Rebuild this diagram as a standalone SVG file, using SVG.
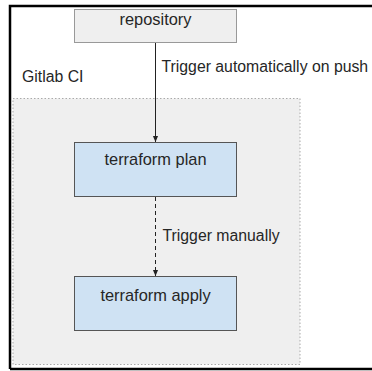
<svg xmlns="http://www.w3.org/2000/svg" width="372" height="371" viewBox="0 0 372 371">
<style>
text{font-family:"Liberation Sans",Arial,sans-serif;font-size:15.8px;fill:#262626}
.node{stroke:#555;stroke-width:1}
.blue{fill:#cfe2f3}
.gray{fill:#efefef;stroke:#999}
.c{text-anchor:middle;font-size:16.4px}
</style>
<defs>
<marker id="ah" viewBox="0 0 8 8" refX="7" refY="4" markerWidth="7" markerHeight="7" markerUnits="userSpaceOnUse" orient="auto">
<path d="M0,1 L7,4 L0,7 z" fill="#222"/>
</marker>
</defs>
<rect width="372" height="371" fill="#fff"/>
<g id="frame" stroke="#000" stroke-width="2.5" fill="none">
<path d="M10,369 L10,6 L372,6"/>
<path d="M10,369 L372,369"/>
</g>
<g id="gitlab-ci">
<rect x="13" y="98.5" width="287" height="266" fill="#efefef" stroke="#aaa" stroke-dasharray="1.5,2"/>
<text x="22" y="82">Gitlab CI</text>
</g>
<g id="repository">
<rect class="node gray" x="74.5" y="9.5" width="162" height="33"/>
<text class="c" x="155.5" y="25">repository</text>
</g>
<g id="terraform-plan">
<rect class="node blue" x="74.5" y="142.5" width="162" height="54"/>
<text class="c" x="155.5" y="165">terraform plan</text>
</g>
<g id="terraform-apply">
<rect class="node blue" x="74.5" y="276.5" width="162" height="54"/>
<text class="c" x="155.5" y="301">terraform apply</text>
</g>
<g id="connectors" stroke="#222" stroke-width="1" fill="none">
<line x1="155.5" y1="43" x2="155.5" y2="142" marker-end="url(#ah)"/>
<line x1="155.5" y1="197" x2="155.5" y2="276" stroke-dasharray="4,3" marker-end="url(#ah)"/>
</g>
<g id="labels">
<text x="161.5" y="72">Trigger automatically on push</text>
<text x="162.5" y="241">Trigger manually</text>
</g>
</svg>
